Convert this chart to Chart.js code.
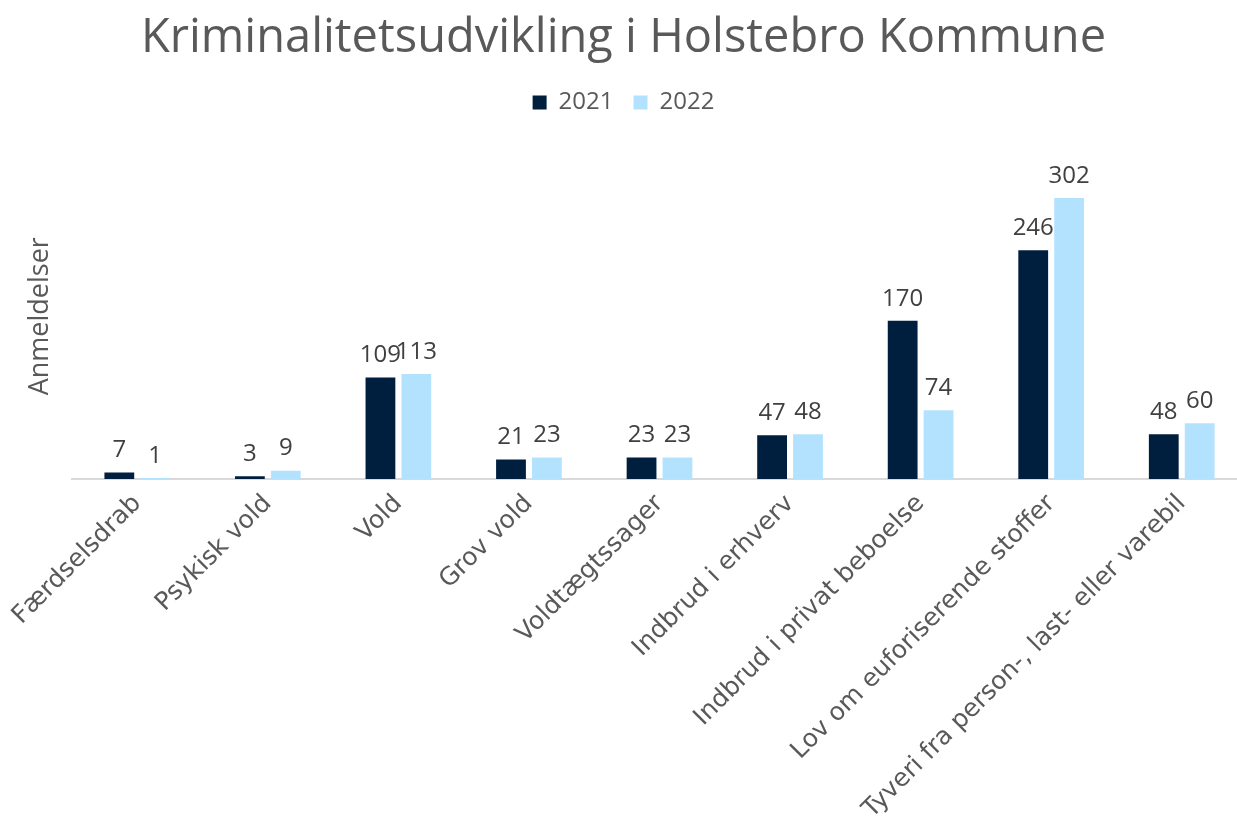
<!DOCTYPE html>
<html>
<head>
<meta charset="utf-8">
<script src="https://cdn.jsdelivr.net/npm/chart.js@4/dist/chart.umd.min.js"></script>
<style>
html,body{margin:0;padding:0;background:#fff;overflow:hidden;}
#wrap{width:1250px;height:816px;position:relative;}
</style>
</head>
<body>
<div id="wrap"><canvas id="c" width="1250" height="816"></canvas></div>
<script>
const categories = ["Færdselsdrab","Psykisk vold","Vold","Grov vold","Voldtægtssager","Indbrud i erhverv","Indbrud i privat beboelse","Lov om euforiserende stoffer","Tyveri fra person-, last- eller varebil"];
const series2021 = [7,3,109,21,23,47,170,246,48];
const series2022 = [1,9,113,23,23,48,74,302,60];
const seriesNames = ["2021","2022"];

const valueLabels = {
  id: 'valueLabels',
  afterDatasetsDraw(chart) {
    const ctx = chart.ctx;
    ctx.save();
    ctx.font = '24px "Open Sans", sans-serif';
    ctx.fillStyle = '#404040';
    ctx.textAlign = 'center';
    ctx.textBaseline = 'bottom';
    chart.data.datasets.forEach((ds, i) => {
      const meta = chart.getDatasetMeta(i);
      meta.data.forEach((bar, j) => {
        ctx.fillText(String(ds.data[j]), bar.x, bar.y - 10);
      });
    });
    ctx.restore();
  }
};

const spacer = {
  id: 'spacer',
  beforeInit(chart) {
    const box = {
      position: 'top', weight: 0, fullSize: true, options: {},
      left: 0, top: 0, right: 0, bottom: 0, width: 0, height: 0,
      isHorizontal() { return true; },
      update(maxWidth) { this.width = maxWidth; this.height = 29; return {width: maxWidth, height: 29}; },
      draw() {}
    };
    Chart.layouts.addBox(chart, box);
  }
};

new Chart(document.getElementById('c'), {
  type: 'bar',
  data: {
    labels: categories,
    datasets: [
      {label: seriesNames[0], data: series2021, backgroundColor: '#001F3F', categoryPercentage: 0.55, barPercentage: 0.83},
      {label: seriesNames[1], data: series2022, backgroundColor: '#B3E2FF', categoryPercentage: 0.55, barPercentage: 0.83}
    ]
  },
  options: {
    responsive: false,
    animation: false,
    layout: {padding: {left: 0, right: 3, top: 0, bottom: 0}},
    plugins: {
      title: {
        display: true,
        text: 'Kriminalitetsudvikling i Holstebro Kommune',
        color: '#595959',
        font: {family: '"Open Sans", sans-serif', size: 47, weight: 'normal'},
        padding: {top: 10, bottom: 4}
      },
      legend: {
        display: true,
        labels: {
          color: '#595959',
          font: {family: '"Open Sans", sans-serif', size: 24},
          boxWidth: 14, boxHeight: 14, padding: 20
        }
      },
      tooltip: {enabled: false}
    },
    scales: {
      x: {
        grid: {display: false},
        border: {display: true, color: '#D9D9D9', width: 2},
        ticks: {
          color: '#595959',
          font: {family: '"DejaVu Sans", sans-serif', size: 25},
          minRotation: 45, maxRotation: 45, autoSkip: false, padding: 2
        },
        afterFit(scale) { scale.height = 337; }
      },
      y: {
        min: 0, max: 350,
        grid: {display: false},
        border: {display: false},
        ticks: {display: false},
        title: {
          display: true, text: 'Anmeldelser', color: '#595959',
          font: {family: '"Open Sans", sans-serif', size: 27},
          padding: {top: 24, bottom: 0}
        },
        afterFit(scale) { scale.width = 72; }
      }
    }
  },
  plugins: [valueLabels, spacer]
});
</script>
</body>
</html>
